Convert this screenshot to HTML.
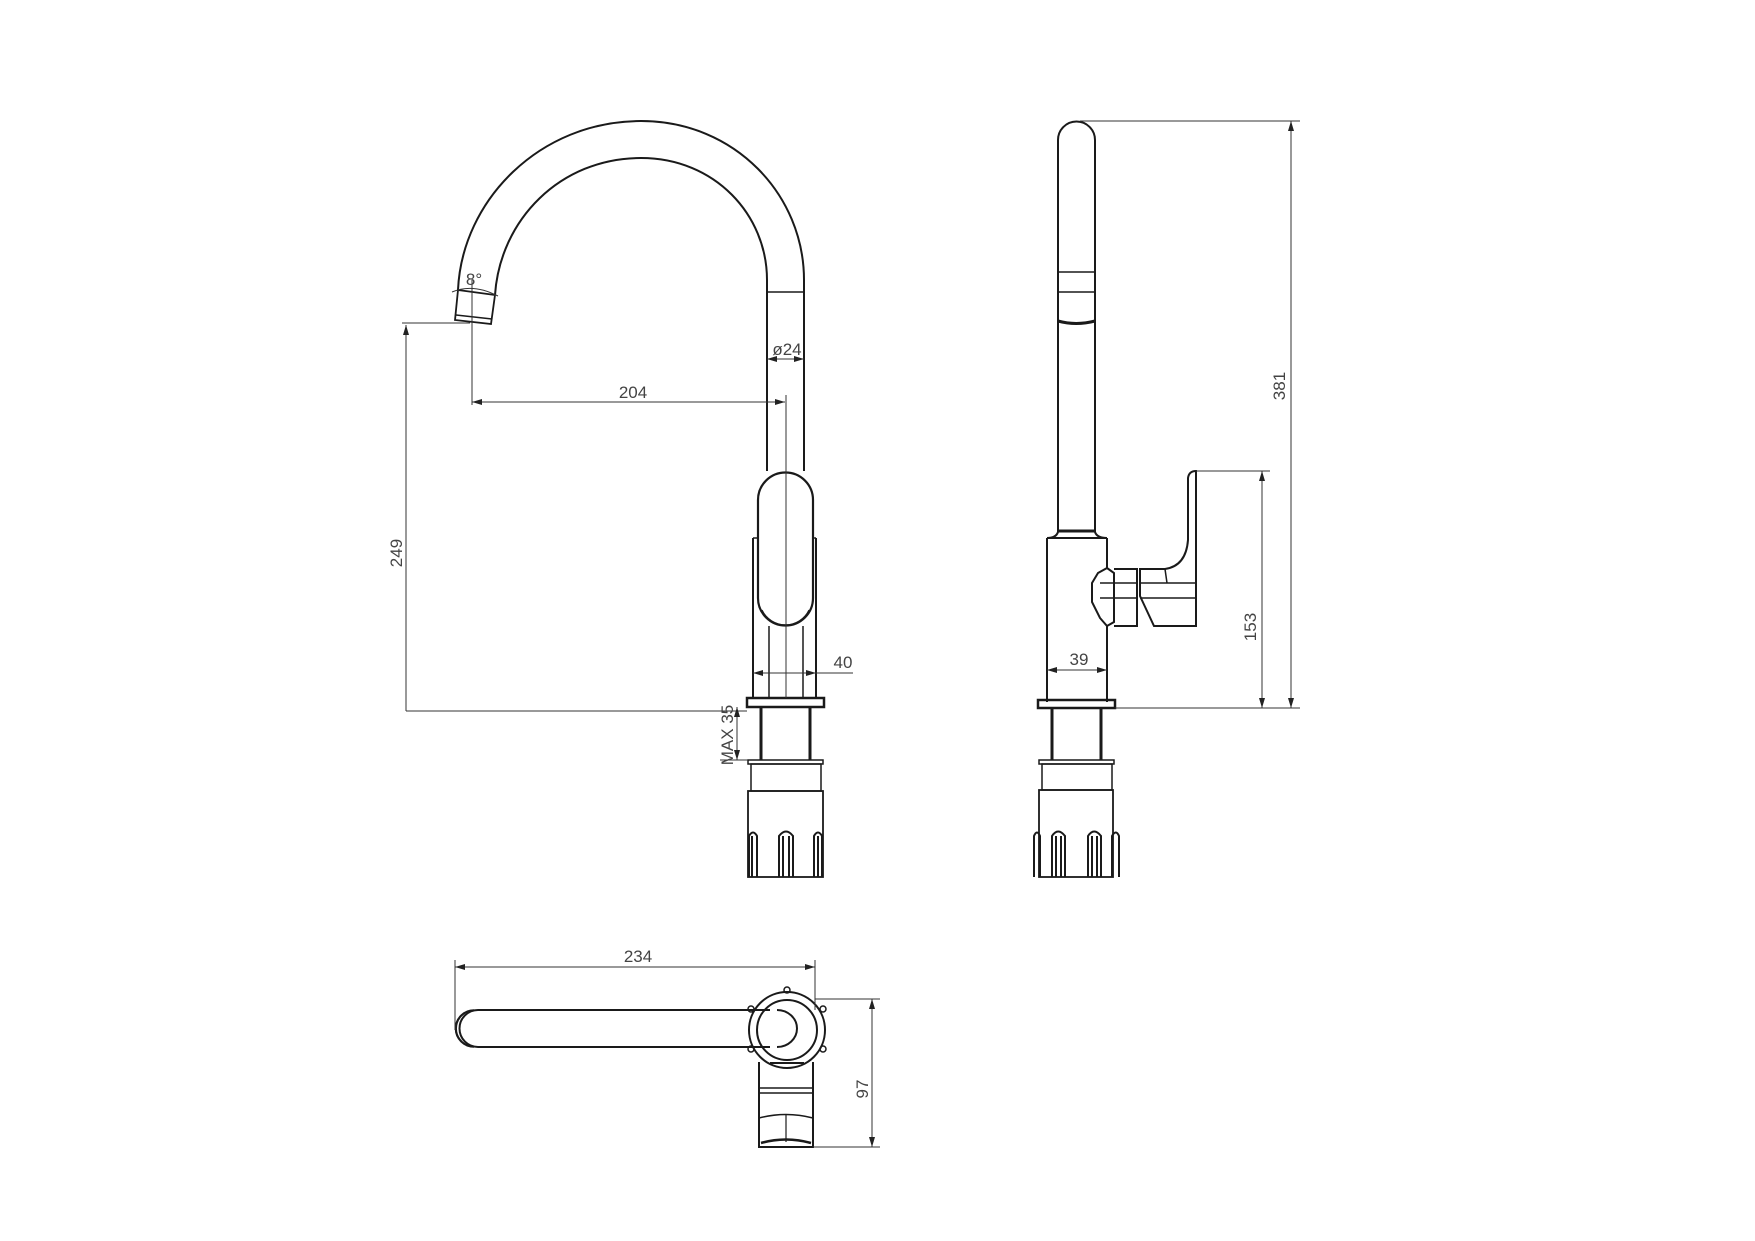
<!DOCTYPE html>
<html><head><meta charset="utf-8"><style>
html,body{margin:0;padding:0;background:#fff;}
svg{display:block;}
text{font-family:"Liberation Sans",sans-serif;fill:#444;font-size:17px;}
</style></head><body>
<svg width="1755" height="1241" viewBox="0 0 1755 1241" xmlns="http://www.w3.org/2000/svg">
<defs>
<marker id="a" viewBox="0 0 10 6" refX="10" refY="3" markerWidth="10" markerHeight="6" orient="auto-start-reverse" markerUnits="userSpaceOnUse"><path d="M0,0 L10,3 L0,6 z" fill="#222"/></marker>
</defs>
<g fill="none" stroke="#1a1a1a" stroke-width="2">
<path d="M458,290 C462,200 540,121 641,121 C735,121 804,195 804,280 L804,471"/>
<path d="M495,295 C500,220 560,158 641,158 C715,158 767,215 767,280 L767,471"/>
<line x1="767" y1="292" x2="804" y2="292" stroke-width="1.5"/>
<path d="M458,290 L495,295 L491,324 L455,320 Z" stroke-width="1.8"/>
<line x1="456" y1="315" x2="492" y2="319" stroke-width="1.5"/>
<path d="M758,500 A27.5,27.5 0 0 1 813,500 L813,598 A27.5,27.5 0 0 1 758,598 Z" stroke-width="2.2"/>
<path d="M762,610 A26,26 0 0 0 809,610" stroke-width="1.2"/>
<line x1="753" y1="538" x2="753" y2="698"/>
<line x1="816" y1="538" x2="816" y2="698"/>
<line x1="753" y1="538" x2="758" y2="538" stroke-width="1.5"/>
<line x1="813" y1="538" x2="816" y2="538" stroke-width="1.5"/>
<line x1="769" y1="626" x2="769" y2="698" stroke-width="1.5"/>
<line x1="803" y1="626" x2="803" y2="698" stroke-width="1.5"/>
<rect x="747" y="698" width="77" height="9" stroke-width="2.5"/>
<line x1="761" y1="707" x2="761" y2="760" stroke-width="3"/>
<line x1="810" y1="707" x2="810" y2="760" stroke-width="3"/>
<rect x="748" y="760" width="75" height="4" stroke-width="1.5"/>
<rect x="751" y="764" width="70" height="27" stroke-width="1.5"/>
<rect x="748" y="791" width="75" height="86" stroke-width="1.8"/>
<path d="M749,877 V836 Q753,829 757,836 V877 M752,836 V877"/>
<path d="M779,877 V836 Q786,827 793,836 V877 M783,836 V877 M789,836 V877"/>
<path d="M814,877 V836 Q818,829 822,836 V877 M818,836 V877"/>
<path d="M1058,532 L1058,140 A18.5,18.5 0 0 1 1095,140 L1095,532"/>
<line x1="1058" y1="272" x2="1095" y2="272" stroke-width="1.5"/>
<line x1="1058" y1="292" x2="1095" y2="292" stroke-width="1.5"/>
<path d="M1058,321 Q1076,326 1095,321" stroke-width="3"/>
<line x1="1058" y1="531" x2="1095" y2="531" stroke-width="3"/>
<path d="M1058,532 Q1056,538 1047,538 L1107,538 Q1097,538 1095,532"/>
<path d="M1047,538 L1047,702"/>
<path d="M1107,538 L1107,568 L1098,573 L1092,583 L1092,602 L1100,618 L1107,626 L1107,702"/>
<path d="M1107,568 L1114,573 L1114,622 L1107,626"/>
<path d="M1114,569 L1137,569 L1137,626 L1114,626"/>
<path d="M1100,583 L1137,583 M1100,598 L1137,598" stroke-width="1.5"/>
<path d="M1140,569 L1165,569 Q1186,566 1188,540 L1188,478 Q1189,471 1196,471 L1196,626 L1154,626 L1140,596 Z"/>
<path d="M1140,583 L1196,583 M1140,598 L1196,598" stroke-width="1.5"/>
<path d="M1165,569 L1167,583" stroke-width="1.5"/>
<rect x="1038" y="700" width="77" height="8" stroke-width="2.5"/>
<line x1="1052" y1="708" x2="1052" y2="760" stroke-width="3"/>
<line x1="1101" y1="708" x2="1101" y2="760" stroke-width="3"/>
<rect x="1039" y="760" width="75" height="4" stroke-width="1.5"/>
<rect x="1042" y="764" width="70" height="26" stroke-width="1.5"/>
<rect x="1039" y="790" width="74" height="87" stroke-width="1.8"/>
<path d="M1034,877 V836 Q1037,829 1040,836 V877"/>
<path d="M1052,877 V836 Q1058,827 1065,836 V877 M1056,836 V877 M1061,836 V877"/>
<path d="M1088,877 V836 Q1094,827 1101,836 V877 M1092,836 V877 M1097,836 V877"/>
<path d="M1112,877 V836 Q1116,829 1119,836 V877"/>
<path d="M478,1010 L770,1010 M478,1047 L770,1047" />
<path d="M478,1010 A18.5,18.5 0 0 0 478,1047" />
<path d="M474,1010 A18.5,18.5 0 0 0 474,1047 M470,1011 A18,18 0 0 0 470,1046" stroke-width="1.5"/>
<circle cx="787" cy="1030" r="38"/>
<circle cx="787" cy="1030" r="30"/>
<path d="M777,1010 A20,18.5 0 0 1 777,1047" />
<circle cx="787" cy="990" r="3" stroke-width="1.5"/>
<circle cx="751" cy="1009" r="3" stroke-width="1.5"/>
<circle cx="823" cy="1009" r="3" stroke-width="1.5"/>
<circle cx="751" cy="1049" r="3" stroke-width="1.5"/>
<circle cx="823" cy="1049" r="3" stroke-width="1.5"/>
<path d="M770,1063 L804,1063"/>
<path d="M759,1062 L759,1147 L813,1147 L813,1062"/>
<line x1="759" y1="1088" x2="813" y2="1088" stroke-width="1.5"/>
<line x1="759" y1="1093" x2="813" y2="1093" stroke-width="1.5"/>
<path d="M759,1118 Q786,1111 813,1118" stroke-width="1.5"/>
<line x1="786" y1="1115" x2="786" y2="1142" stroke-width="1.2"/>
<path d="M761,1143 Q786,1136 811,1143" stroke-width="2.5"/>
</g>
<g fill="none" stroke="#333" stroke-width="1">
<line x1="402" y1="323" x2="470" y2="323"/>
<line x1="406" y1="711" x2="406" y2="325" marker-end="url(#a)"/>
<line x1="406" y1="711" x2="747" y2="711"/>
<line x1="472" y1="280" x2="472" y2="405"/>
<line x1="472" y1="402" x2="785" y2="402" marker-start="url(#a)" marker-end="url(#a)"/>
<line x1="786" y1="395" x2="786" y2="698"/>
<line x1="767" y1="359" x2="804" y2="359" marker-start="url(#a)" marker-end="url(#a)"/>
<line x1="753" y1="673" x2="816" y2="673" marker-start="url(#a)" marker-end="url(#a)"/>
<line x1="816" y1="673" x2="853" y2="673"/>
<line x1="737" y1="707" x2="737" y2="760" marker-start="url(#a)" marker-end="url(#a)"/>
<line x1="720" y1="760" x2="748" y2="760"/>
<path d="M452,292 Q473,283 498,296" />
<line x1="1047" y1="670" x2="1107" y2="670" marker-start="url(#a)" marker-end="url(#a)"/>
<line x1="1115" y1="708" x2="1300" y2="708"/>
<line x1="1080" y1="121" x2="1300" y2="121"/>
<line x1="1291" y1="121" x2="1291" y2="708" marker-start="url(#a)" marker-end="url(#a)"/>
<line x1="1196" y1="471" x2="1270" y2="471"/>
<line x1="1262" y1="471" x2="1262" y2="708" marker-start="url(#a)" marker-end="url(#a)"/>
<line x1="455" y1="960" x2="455" y2="1030"/>
<line x1="815" y1="960" x2="815" y2="1010"/>
<line x1="455" y1="967" x2="815" y2="967" marker-start="url(#a)" marker-end="url(#a)"/>
<line x1="815" y1="999" x2="880" y2="999"/>
<line x1="813" y1="1147" x2="880" y2="1147"/>
<line x1="872" y1="999" x2="872" y2="1147" marker-start="url(#a)" marker-end="url(#a)"/>
</g>
<text x="474" y="285" text-anchor="middle">8°</text>
<text x="633" y="398" text-anchor="middle">204</text>
<text x="787" y="355" text-anchor="middle">ø24</text>
<text x="843" y="668" text-anchor="middle">40</text>
<text x="1079" y="665" text-anchor="middle">39</text>
<text x="638" y="962" text-anchor="middle">234</text>
<text transform="translate(402,553) rotate(-90)" text-anchor="middle">249</text>
<text transform="translate(733,735) rotate(-90)" text-anchor="middle">MAX 35</text>
<text transform="translate(1256,627) rotate(-90)" text-anchor="middle">153</text>
<text transform="translate(1285,386) rotate(-90)" text-anchor="middle">381</text>
<text transform="translate(868,1089) rotate(-90)" text-anchor="middle">97</text>
</svg>
</body></html>
